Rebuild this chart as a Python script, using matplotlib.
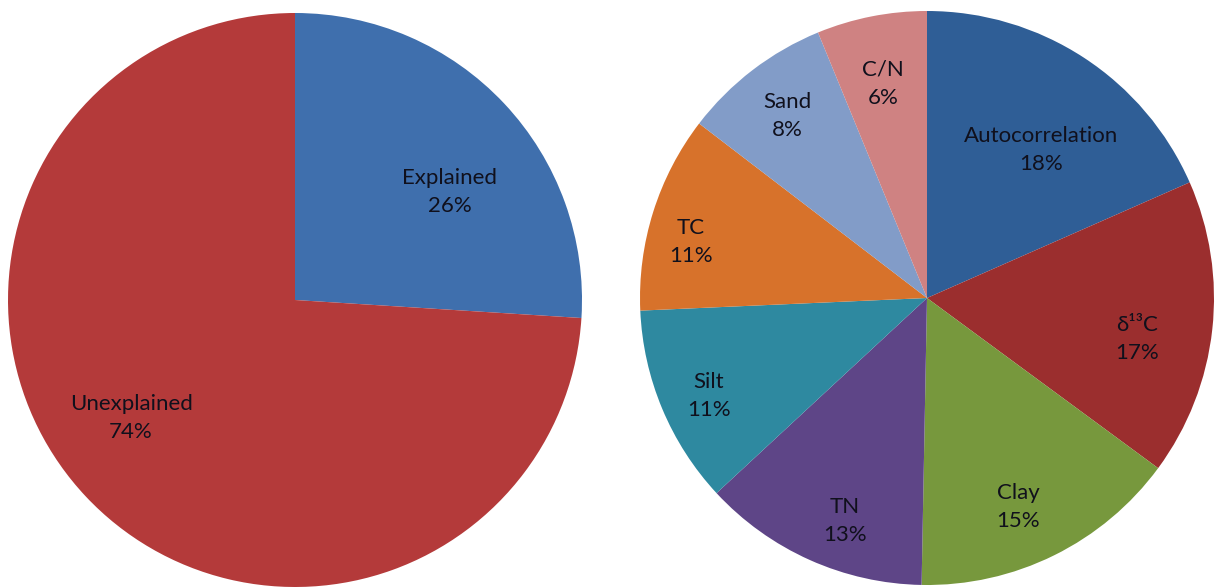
import matplotlib
matplotlib.use("Agg")
import matplotlib.pyplot as plt

plt.rcParams['font.family'] = ['Lato', 'DejaVu Sans']

# Left pie data
left_labels = ["Explained", "Unexplained"]
left_values = [26, 74]
left_colors = ["#3F6FAD", "#B43A3A"]

# Right pie data
right_labels = ["Autocorrelation", "δ¹³C", "Clay", "TN", "Silt", "TC", "Sand", "C/N"]
right_values = [18.4, 16.7, 15.2, 12.8, 11.2, 11.1, 8.4, 6.2]
right_colors = ["#2F5E96", "#9B2E2E", "#77983D", "#5E4587", "#2E89A0",
                "#D7722B", "#829CC8", "#CF8282"]

# label positions (in units of pie radius, relative to centre)
left_label_pos = [(0.54, 0.376), (-0.571, -0.411)]
right_label_pos = [(0.397, 0.516), (0.732, -0.143), (0.317, -0.728), (-0.286, -0.777),
                   (-0.76, -0.341), (-0.822, 0.195), (-0.488, 0.634), (-0.153, 0.746)]

W, H = 1219, 587
fig = plt.figure(figsize=(W / 100, H / 100), dpi=100)
fig.patch.set_facecolor("white")

R = 287
axL = fig.add_axes([(295 - R) / W, (H - 300 - R) / H, 2 * R / W, 2 * R / H])
axR = fig.add_axes([(927 - R) / W, (H - 298 - R) / H, 2 * R / W, 2 * R / H])


def draw(ax, values, colors, labels, pos):
    ax.pie(values, colors=colors, startangle=90, counterclock=False, radius=1,
           wedgeprops=dict(linewidth=0))
    total = sum(values)
    for lab, v, (x, y) in zip(labels, values, pos):
        ax.text(x, y, f"{lab}\n{round(100 * v / total):d}%", ha="center", va="center",
                fontsize=16, color="#10101c", linespacing=1.5)
    ax.set_xlim(-1, 1)
    ax.set_ylim(-1, 1)
    ax.set_aspect("equal")
    ax.axis("off")


draw(axL, left_values, left_colors, left_labels, left_label_pos)
draw(axR, right_values, right_colors, right_labels, right_label_pos)

fig.savefig("out.png", dpi=100)
